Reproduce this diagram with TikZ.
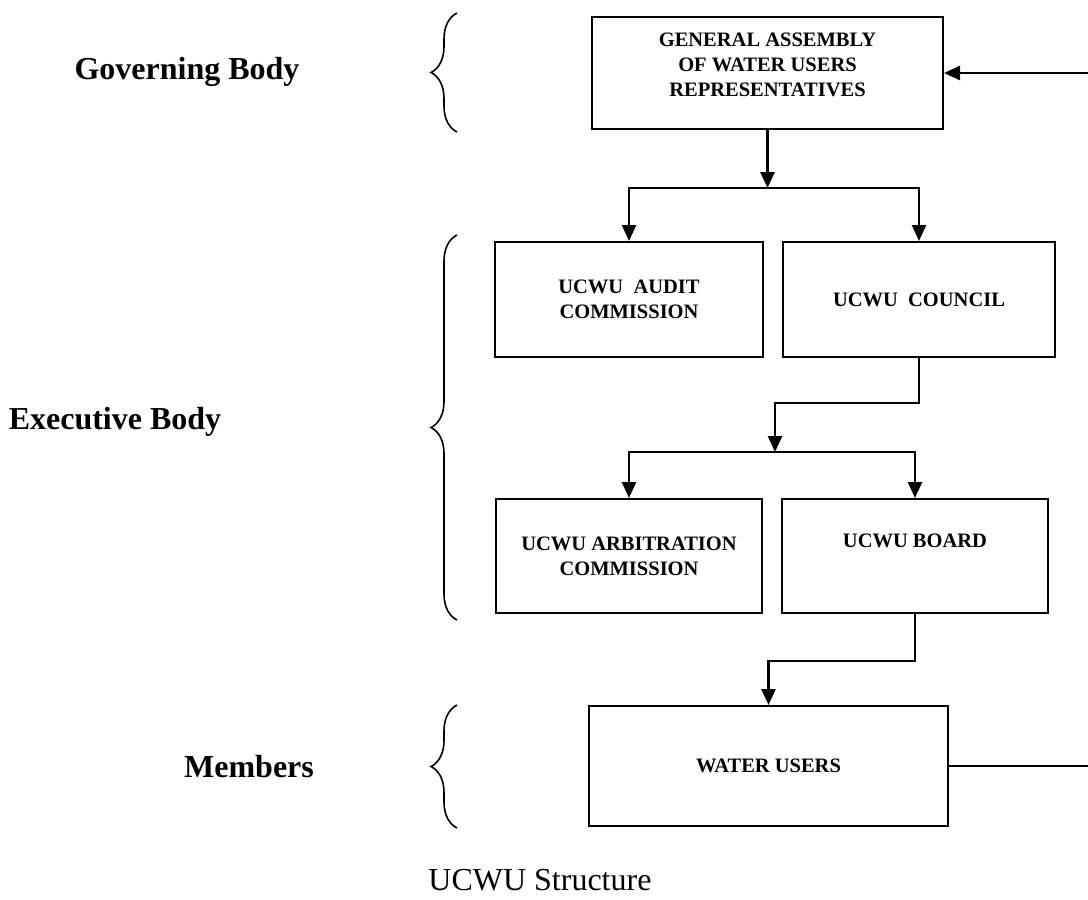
\documentclass[tikz,border=0pt]{standalone}
\usepackage{fontspec}
\setmainfont{Liberation Serif}
\usetikzlibrary{arrows.meta,decorations.pathreplacing}
\begin{document}
\begin{tikzpicture}[
    x=0.5pt, y=-0.5pt,
    box/.style={rectangle, draw=black, line width=1pt, minimum height=57.5pt, align=center, font=\fontsize{10.25pt}{12.5pt}\selectfont\bfseries, inner sep=2pt},
    boxtext/.style={align=center, font=\fontsize{10.25pt}{12.5pt}\selectfont\bfseries, inner sep=0pt},
    arrow/.style={-{Triangle[length=8pt,width=7pt]}, line width=1.3pt},
    bracket/.style={decorate, decoration={brace, amplitude=13pt}, line width=0.8pt},
    side/.style={font=\fontsize{16pt}{19pt}\selectfont\bfseries, anchor=base, inner sep=0pt}
]
\fill[white] (0,0) rectangle (1088,900);
\useasboundingbox (0,0) rectangle (1088,900);

% Governing body
\node[box, minimum width=175.5pt, minimum height=56pt,
      label={[boxtext, name=gatext, yshift=4pt]center:{GENERAL ASSEMBLY\\OF WATER USERS\\REPRESENTATIVES}}] (ga) at (767.5,73) {};

% Executive body
\node[box, minimum width=134pt] (audit) at (629,299.5) {UCWU\ \ AUDIT\\COMMISSION};
\node[box, minimum width=136pt] (council) at (919,299.5) {UCWU\ \ COUNCIL};
\node[box, minimum width=133pt, minimum height=57pt] (arbit) at (629,556) {UCWU ARBITRATION\\COMMISSION};
\node[box, minimum width=133pt, minimum height=57pt,
      label={[boxtext, name=boardtext, yshift=7.5pt]center:{UCWU BOARD}}] (board) at (915,556) {};

% Members
\node[box, minimum width=179.5pt, minimum height=60pt] (users) at (768.5,766) {WATER USERS};

% Junctions
\coordinate (s1) at (ga.south |- 0,188);
\coordinate (k1) at (775,403);
\coordinate (s2) at (775,452);
\coordinate (k2) at (users.north |- 0,661);
\coordinate (fb) at (1094,0);

% Arrows
\draw[arrow] (ga.south) -- (s1);
\draw[arrow] (s1) -| (audit.north);
\draw[arrow] (s1) -| (council.north);
\draw[arrow] (council.south) |- (k1) -- (s2);
\draw[arrow] (s2) -| (arbit.north);
\draw[arrow] (s2) -| (board.north);
\draw[arrow] (board.south) |- (k2) -- (users.north);
\draw[arrow] (users.east) -- (users.east -| fb) |- (ga.east);

% Braces
\draw[bracket] (457,132) -- (457,13);
\draw[bracket] (457,620) -- (457,235);
\draw[bracket] (457,828) -- (457,705);

% Side labels
\node[side] (gov) at (187,79) {Governing Body};
\node[side] (exec) at (115,429) {Executive Body};
\node[side] (mem) at (249,777) {Members};

% Caption
\node[font=\fontsize{16pt}{19pt}\selectfont, anchor=base west, inner sep=0pt] (caption) at (428,890) {UCWU Structure};

\end{tikzpicture}
\end{document}
